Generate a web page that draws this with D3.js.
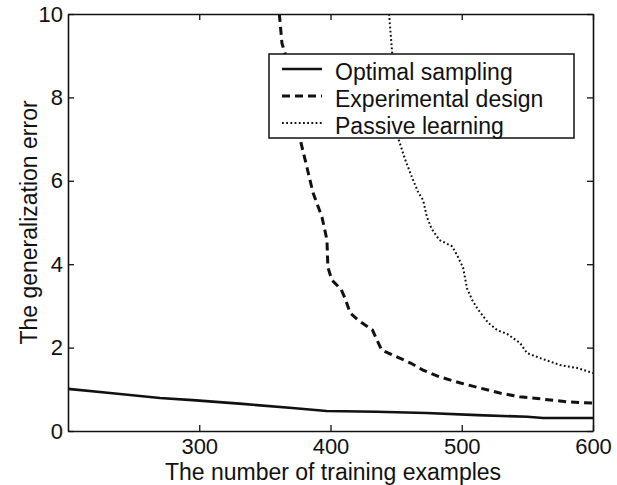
<!DOCTYPE html>
<html>
<head>
<meta charset="utf-8">
<script src="https://cdn.jsdelivr.net/npm/d3@7"></script>
<style>
  body { margin: 0; background: #fff; }
  text { font-family: "Liberation Sans", Arial, Helvetica, sans-serif; fill: #111; }
</style>
</head>
<body>
<svg width="617" height="485"></svg>
<script>
// Tick values
var xTicks = [300, 400, 500, 600];
var yTicks = [0, 2, 4, 6, 8, 10];

// Series
var optimalX = [200, 232, 270, 295, 333, 371, 397, 435, 473, 512, 550, 562, 580, 600];
var optimalY = [1.01, 0.91, 0.79, 0.74, 0.65, 0.55, 0.48, 0.46, 0.43, 0.38, 0.34, 0.31, 0.31, 0.31];

var designX = [361, 363, 365.3, 377, 382, 386.7, 393.5, 397.3, 398, 401, 408, 411, 415, 421, 432, 435.4, 439, 451, 461, 470.5, 483, 499, 514, 529, 544, 560, 580, 600];
var designY = [10, 9.3, 9.06, 6.98, 6.33, 5.71, 5.13, 4.58, 3.93, 3.62, 3.40, 3.19, 2.83, 2.66, 2.42, 2.18, 1.94, 1.77, 1.63, 1.46, 1.30, 1.15, 1.03, 0.91, 0.82, 0.77, 0.70, 0.67];

var passiveX = [444.6, 447, 452, 457, 462, 467, 470.5, 473.5, 477, 483, 492.6, 496.4, 501, 504, 508, 512, 520, 527, 534.5, 544.4, 549.7, 559.6, 575, 588, 600];
var passiveY = [10, 9.06, 6.98, 6.5, 6.09, 5.71, 5.54, 5.13, 4.85, 4.58, 4.43, 4.22, 3.92, 3.42, 3.14, 2.93, 2.6, 2.42, 2.33, 2.11, 1.87, 1.75, 1.58, 1.51, 1.39];

var legendNames = ["Optimal sampling", "Experimental design", "Passive learning"];
var dashes = [null, "8,5", "1.8,2.4"];
var widths = [2.6, 3, 2];

var svg = d3.select("svg"),
  plotLeft = 68, plotRight = 593, plotTop = 14, plotBottom = 431;

var x = d3.scaleLinear().domain([200, 600]).range([plotLeft, plotRight]);
var y = d3.scaleLinear().domain([0, 10]).range([plotBottom, plotTop]);

svg.append("rect").attr("width", 617).attr("height", 485).attr("fill", "#fff");

svg.append("clipPath").attr("id", "plot")
  .append("rect").attr("x", plotLeft).attr("y", plotTop)
  .attr("width", plotRight - plotLeft).attr("height", plotBottom - plotTop);

// Curves
var line = d3.line().x(function(d) { return x(d[0]); }).y(function(d) { return y(d[1]); });
var series = [d3.zip(optimalX, optimalY), d3.zip(designX, designY), d3.zip(passiveX, passiveY)];

svg.append("g").attr("clip-path", "url(#plot)")
  .selectAll("path")
  .data(series)
  .enter()
  .append("path")
    .attr("d", line)
    .attr("fill", "none")
    .attr("stroke", "#111")
    .attr("stroke-width", function(d, i) { return widths[i]; })
    .attr("stroke-dasharray", function(d, i) { return dashes[i]; });

// Axes, MATLAB style: ticks inside on all four sides
var tickLen = 6;
svg.append("g").attr("transform", "translate(0," + plotBottom + ")")
  .call(d3.axisBottom(x).tickValues(xTicks).tickSize(-tickLen).tickPadding(7.8).tickSizeOuter(0));
svg.append("g").attr("transform", "translate(0," + plotTop + ")")
  .call(d3.axisTop(x).tickValues(xTicks).tickSize(-tickLen).tickFormat("").tickSizeOuter(0));
svg.append("g").attr("transform", "translate(" + plotLeft + ",0)")
  .call(d3.axisLeft(y).tickValues(yTicks).tickSize(-tickLen).tickPadding(5).tickSizeOuter(0));
svg.append("g").attr("transform", "translate(" + plotRight + ",0)")
  .call(d3.axisRight(y).tickValues(yTicks).tickSize(-tickLen).tickFormat("").tickSizeOuter(0));

svg.selectAll(".domain").attr("stroke", "#111").attr("stroke-width", 1.6);
svg.selectAll(".tick line").attr("stroke", "#111").attr("stroke-width", 1.3);
svg.selectAll(".tick text").style("font-size", "22px").style("font-family", "Liberation Sans, Arial, sans-serif").attr("fill", "#111");

// Axis titles
svg.append("text")
  .attr("x", 333).attr("y", 480)
  .attr("text-anchor", "middle")
  .style("font-size", "23px")
  .text("The number of training examples");

svg.append("text")
  .attr("transform", "translate(37," + ((plotTop + plotBottom) / 2) + ") rotate(-90)")
  .attr("text-anchor", "middle")
  .style("font-size", "23px")
  .text("The generalization error");

// Legend (opaque box over the curves)
var legend = svg.append("g");
legend.append("rect")
  .attr("x", 269).attr("y", 54).attr("width", 305).attr("height", 84)
  .attr("fill", "#fff").attr("stroke", "#111").attr("stroke-width", 1.5);

var rows = legend.selectAll("g.row")
  .data(legendNames)
  .enter()
  .append("g")
    .attr("class", "row")
    .attr("transform", function(d, i) { return "translate(0," + (69 + i * 27) + ")"; });

rows.append("line")
  .attr("x1", 282).attr("x2", 322)
  .attr("stroke", "#111")
  .attr("stroke-width", function(d, i) { return widths[i]; })
  .attr("stroke-dasharray", function(d, i) { return dashes[i]; });

rows.append("text")
  .attr("x", 335).attr("y", 10.5)
  .style("font-size", "23px")
  .text(function(d) { return d; });
</script>
</body>
</html>
